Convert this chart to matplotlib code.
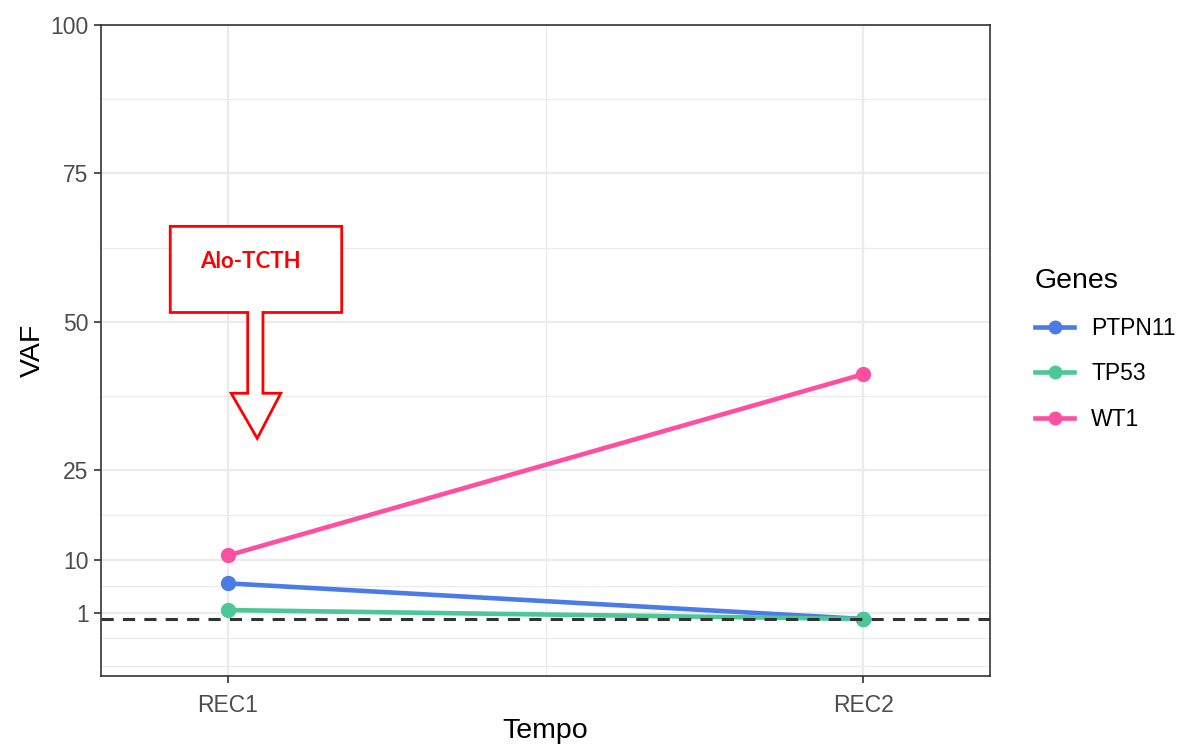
import matplotlib.pyplot as plt
from matplotlib.patches import Polygon
from matplotlib.lines import Line2D

plt.rcParams['font.family'] = ['Liberation Sans', 'DejaVu Sans']

tempo = ['REC1', 'REC2']
genes = ['PTPN11', 'TP53', 'WT1']
vaf_ptpn11 = [6.0, 0.0]
vaf_tp53 = [1.5, 0.0]
vaf_wt1 = [10.7, 41.2]
colors = ['#4A7BE6', '#4CC797', '#FF4FA0']

y_breaks = [1, 10, 25, 50, 75, 100]
y_minor = [-7.9, -3.2, 5.5, 17.5, 37.5, 62.5, 87.5]

fig = plt.figure(figsize=(11.83, 7.44), dpi=100)
ax = fig.add_axes([0.0854, 0.0914, 0.7515, 0.875])

x = [1, 2]
for vals, col in zip([vaf_ptpn11, vaf_tp53, vaf_wt1], colors):
    ax.plot(x, vals, color=col, lw=3.3, marker='o', ms=10, zorder=3,
            solid_capstyle='butt')

ax.axhline(0, color='#333333', lw=2.2, ls=(0, (4, 3)), zorder=4)

ax.set_xlim(0.8, 2.2)
ax.set_ylim(-9.6, 100)
ax.set_xticks(x)
ax.set_xticklabels(tempo)
ax.set_xticks([1.5], minor=True)
ax.set_yticks(y_breaks)
ax.set_yticks(y_minor, minor=True)
ax.grid(True, which='major', color='#EBEBEB', lw=1.6, zorder=0)
ax.grid(True, which='minor', color='#EBEBEB', lw=0.9, zorder=0)
ax.tick_params(which='major', length=5, width=1.2, color='#333333',
               labelsize=16.5, labelcolor='#4D4D4D', pad=4)
ax.tick_params(axis='x', which='major', pad=8)
ax.tick_params(which='minor', length=0)
for s in ax.spines.values():
    s.set_color('#333333')
    s.set_linewidth(1.2)

ax.set_xlabel('Tempo', fontsize=20.5, labelpad=1)
ax.set_ylabel('VAF', fontsize=20.5, labelpad=3)

# callout annotation
callout = [(0.909, 66.1), (1.179, 66.1), (1.179, 51.6), (1.055, 51.6),
           (1.055, 38.0), (1.083, 38.0), (1.046, 30.4), (1.005, 38.0),
           (1.031, 38.0), (1.031, 51.6), (0.909, 51.6)]
ax.add_patch(Polygon(callout, closed=True, facecolor='white',
                     edgecolor='red', lw=2, zorder=5))
ax.text(1.035, 60.2, 'Alo-TCTH', color='red', fontsize=16,
        fontweight='bold', family=['Lato', 'DejaVu Sans'],
        ha='center', va='center', zorder=6)

handles = [Line2D([], [], color=c, lw=3.3, marker='o', ms=9) for c in colors]
leg = fig.legend(handles, genes, title='Genes', loc='upper left',
                 bbox_to_anchor=(0.8575, 0.668), frameon=False,
                 fontsize=16.5, title_fontsize=20.5, handlelength=1.7,
                 labelspacing=1.0, handletextpad=0.75)
leg._legend_box.align = 'left'

fig.savefig('out.png', dpi=100)
